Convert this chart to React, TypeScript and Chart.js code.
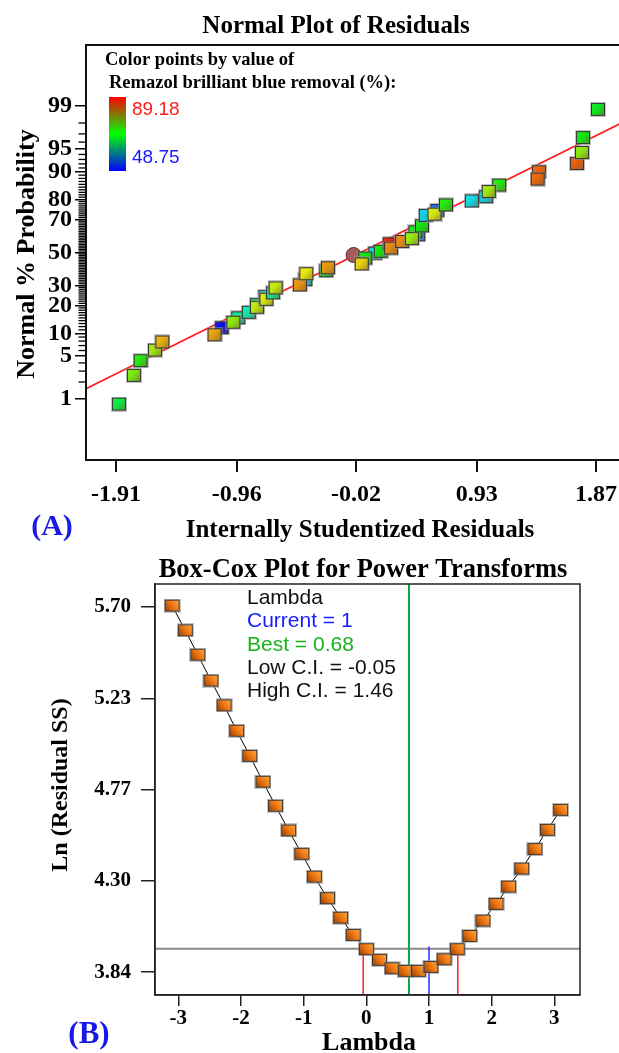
import React, { useEffect, useRef } from "react";
import { Chart, registerables } from "chart.js";

Chart.register(...registerables);

// ---------------- Normal plot of residuals (A) ----------------
// draw order (points drawn later sit on top)
const residuals = [
  -1.886, -1.769, -1.716, -1.603, -1.545, -1.077, -1.134, -0.947, -0.986, -0.864,
  -0.8, -0.8, -0.734, -0.725, -0.673, -0.653, -0.419, -0.462, -0.411, -0.254,
  -0.241, 0.132, 0.053, 0.025, 0.175, 0.244, 0.256, 0.343, 0.47, 0.447,
  0.42, 0.499, 0.529, 0.62, 0.598, 0.688, 1.107, 1.004, 0.892, 1.025,
  1.421, 1.41, 1.72, 1.759, 1.767, 1.885,
];
const normalProb = [
  0.81, 2.57, 4.31, 6.08, 7.8, 11.62, 9.59, 15.01, 13.44, 17.16,
  20.44, 19.24, 24.2, 22.9, 26.08, 28.71, 33.32, 30.33, 36.84, 38.63,
  40.44, 49.6, 46.49, 42.78, 50.76, 55.45, 52.79, 56.91, 61.03, 62.82,
  58.71, 66.35, 72.17, 74.79, 72.84, 77.46, 85.77, 81.19, 79.3, 83.32,
  89.97, 87.78, 92.1, 94.36, 96.58, 98.84,
];
const removal = [
  66.4, 74.0, 70.1, 75.7, 81.6, 48.75, 82.3, 63.4, 74.9, 61.7,
  63.9, 77.0, 59.7, 78.2, 63.4, 77.4, 57.5, 82.9, 79.1, 67.3,
  82.9, 57.8, 69.0, 80.1, 69.0, 88.3, 83.6, 83.4, 55.5, 69.0,
  75.4, 69.0, 57.7, 53.1, 78.2, 70.0, 70.0, 57.8, 58.2, 75.7,
  85.1, 85.0, 85.5, 74.9, 69.0, 68.3,
];
const selectedResidual = [-0.039];
const selectedProb = [48.4];
const removalMin = 48.75;
const removalMax = 89.18;
const fitMean = 0.015;
const fitSd = 1.0;

const probTicks = [1, 5, 10, 20, 30, 50, 70, 80, 90, 95, 99];
const probTickLabels = ["1", "5", "10", "20", "30", "50", "70", "80", "90", "95", "99"];
const probAxisMin = 0.05;
const probAxisMax = 99.95;
const residualTicks = [-1.91, -0.96, -0.02, 0.93, 1.87];
const residualTickLabels = ["-1.91", "-0.96", "-0.02", "0.93", "1.87"];
const residualMin = -2.146;
const residualMax = 2.137;

// ---------------- Box-Cox plot (B) ----------------
const lambdaValues = [
  -3.1, -2.89, -2.69, -2.48, -2.27, -2.07, -1.86, -1.65, -1.45, -1.24,
  -1.03, -0.83, -0.62, -0.41, -0.21, 0.0, 0.21, 0.41, 0.62, 0.83,
  1.03, 1.24, 1.45, 1.65, 1.86, 2.07, 2.27, 2.48, 2.69, 2.89, 3.1,
];
const lnResidualSS = [
  5.707, 5.581, 5.457, 5.325, 5.199, 5.07, 4.942, 4.81, 4.688, 4.562,
  4.443, 4.327, 4.217, 4.118, 4.03, 3.957, 3.903, 3.86, 3.847, 3.847,
  3.867, 3.906, 3.957, 4.025, 4.103, 4.188, 4.276, 4.368, 4.467, 4.565, 4.667,
];
const lambdaCurrent = 1;
const lambdaBest = 0.68;
const lambdaLowCI = -0.05;
const lambdaHighCI = 1.46;
const ciLnSS = 3.959;
const boxYTicks = [3.84, 4.305, 4.77, 5.235, 5.7];
const boxYTickLabels = ["3.84", "4.30", "4.77", "5.23", "5.70"];
const boxXTicks = [-3, -2, -1, 0, 1, 2, 3];
const boxXTickLabels = ["-3", "-2", "-1", "0", "1", "2", "3"];
const boxXMin = -3.373;
const boxXMax = 3.41;
const boxYMin = 3.724;
const boxYMax = 5.817;

// ---------------- helpers ----------------
const SERIF = "'Liberation Serif', 'Times New Roman', serif";
const SANS = "'Liberation Sans', Arial, sans-serif";

function qnorm(p: number): number {
  const a = [-3.969683028665376e1, 2.209460984245205e2, -2.759285104469687e2, 1.38357751867269e2, -3.066479806614716e1, 2.506628277459239];
  const b = [-5.447609879822406e1, 1.615858368580409e2, -1.556989798598866e2, 6.680131188771972e1, -1.328068155288572e1];
  const c = [-7.784894002430293e-3, -3.223964580411365e-1, -2.400758277161838, -2.549732539343734, 4.374664141464968, 2.938163982698783];
  const d = [7.784695709041462e-3, 3.224671290700398e-1, 2.445134137142996, 3.754408661907416];
  const plow = 0.02425;
  if (p < plow) {
    const q = Math.sqrt(-2 * Math.log(p));
    return (((((c[0] * q + c[1]) * q + c[2]) * q + c[3]) * q + c[4]) * q + c[5]) / ((((d[0] * q + d[1]) * q + d[2]) * q + d[3]) * q + 1);
  }
  if (p <= 1 - plow) {
    const q = p - 0.5;
    const r = q * q;
    return ((((((a[0] * r + a[1]) * r + a[2]) * r + a[3]) * r + a[4]) * r + a[5]) * q) / (((((b[0] * r + b[1]) * r + b[2]) * r + b[3]) * r + b[4]) * r + 1);
  }
  const q = Math.sqrt(-2 * Math.log(1 - p));
  return -(((((c[0] * q + c[1]) * q + c[2]) * q + c[3]) * q + c[4]) * q + c[5]) / ((((d[0] * q + d[1]) * q + d[2]) * q + d[3]) * q + 1);
}

function hsl(h: number, s: number, l: number): number[] {
  s /= 100;
  l /= 100;
  const k = (n: number) => (n + h / 30) % 12;
  const a = s * Math.min(l, 1 - l);
  const f = (n: number) => l - a * Math.max(-1, Math.min(k(n) - 3, 9 - k(n), 1));
  return [f(0) * 255, f(8) * 255, f(4) * 255];
}
function rgb(c: number[]): string {
  return `rgb(${Math.round(c[0])},${Math.round(c[1])},${Math.round(c[2])})`;
}
function mix(c1: number[], c2: number[], t: number): number[] {
  return [0, 1, 2].map((i) => c1[i] * (1 - t) + c2[i] * t);
}

function squareMarker(base: number[], W: number, H: number): HTMLCanvasElement {
  const cv = document.createElement("canvas");
  cv.width = W;
  cv.height = H;
  const g = cv.getContext("2d")!;
  g.fillStyle = "rgba(150,150,150,0.55)";
  g.fillRect(0, 0, W, H);
  g.fillStyle = "#333";
  g.fillRect(1, 1, W - 2, H - 2);
  const grad = g.createLinearGradient(2, 2, W - 2, H - 2);
  grad.addColorStop(0, rgb(mix(base, [255, 255, 255], 0.08)));
  grad.addColorStop(0.4, rgb(base));
  grad.addColorStop(1, rgb(mix(base, [110, 95, 70], 0.55)));
  g.fillStyle = grad;
  g.fillRect(2, 2, W - 4, H - 4);
  return cv;
}

function boxMarker(W: number, H: number): HTMLCanvasElement {
  const cv = document.createElement("canvas");
  cv.width = W;
  cv.height = H;
  const g = cv.getContext("2d")!;
  g.fillStyle = "rgba(150,150,150,0.55)";
  g.fillRect(0, 0, W, H);
  g.fillStyle = "#3a3a3a";
  g.fillRect(1, 1, W - 2, H - 2);
  const grad = g.createLinearGradient(W - 2, 2, 2, H - 2);
  grad.addColorStop(0, "#ffa53c");
  grad.addColorStop(0.5, "#ec7512");
  grad.addColorStop(1, "#9a4306");
  g.fillStyle = grad;
  g.fillRect(2, 2, W - 4, H - 4);
  return cv;
}

function colorForRemoval(v: number): number[] {
  const t = Math.max(0, Math.min(1, (v - removalMin) / (removalMax - removalMin)));
  return hsl(240 * (1 - t), 90, 48);
}

function text(ctx: CanvasRenderingContext2D, s: string, x: number, y: number, font: string, color: string, align: CanvasTextAlign = "left", baseline: CanvasTextBaseline = "alphabetic", rot = 0) {
  ctx.save();
  ctx.font = font;
  ctx.fillStyle = color;
  ctx.textAlign = align;
  ctx.textBaseline = baseline;
  ctx.translate(x, y);
  if (rot) ctx.rotate(rot);
  ctx.fillText(s, 0, 0);
  ctx.restore();
}

const minorProbTicks: number[] = [];
for (let p = 2; p <= 98; p++) if (!probTicks.includes(p)) minorProbTicks.push(p);

const normalDecor = {
  id: "normalDecor",
  afterDraw(chart: any) {
    const { ctx, chartArea: a, scales } = chart;
    const ys = scales.y;
    ctx.save();
    ctx.strokeStyle = "#111";
    ctx.lineWidth = 2;
    ctx.strokeRect(a.left, a.top, a.right - a.left, a.bottom - a.top);
    ctx.lineWidth = 1.3;
    ctx.strokeStyle = "#000";
    for (const p of minorProbTicks) {
      const py = ys.getPixelForValue(qnorm(p / 100));
      ctx.beginPath();
      ctx.moveTo(a.left - 7.5, py);
      ctx.lineTo(a.left, py);
      ctx.stroke();
    }
    // colour bar
    const grad = ctx.createLinearGradient(0, 97, 0, 171);
    grad.addColorStop(0, "#ff0000");
    grad.addColorStop(0.5, "#00ff00");
    grad.addColorStop(1, "#0000ff");
    ctx.fillStyle = grad;
    ctx.fillRect(109, 97, 17, 74);
    ctx.restore();

    text(ctx, "Normal Plot of Residuals", 336, 33, `bold 25px ${SERIF}`, "#000", "center");
    text(ctx, "Color points by value of", 105, 65, `bold 18.5px ${SERIF}`, "#000");
    text(ctx, "Remazol brilliant blue removal (%):", 109, 88, `bold 18.5px ${SERIF}`, "#000");
    text(ctx, removalMax.toFixed(2), 132, 115, `19px ${SANS}`, "#ff1a1a");
    text(ctx, removalMin.toFixed(2), 132, 162.5, `19px ${SANS}`, "#1a1aff");
    text(ctx, "Normal % Probability", 27, 254, `bold 26px ${SERIF}`, "#000", "center", "middle", -Math.PI / 2);
    text(ctx, "Internally Studentized Residuals", 360, 537, `bold 25px ${SERIF}`, "#000", "center");
    text(ctx, "(A)", 52, 535, `bold 30px ${SERIF}`, "#1818e8", "center");
  },
};

const boxDecor = {
  id: "boxDecor",
  afterDraw(chart: any) {
    const { ctx, chartArea: a } = chart;
    ctx.save();
    ctx.strokeStyle = "#222";
    ctx.lineWidth = 1.5;
    ctx.strokeRect(a.left, a.top, a.right - a.left, a.bottom - a.top);
    ctx.restore();
    const off = 545;
    text(ctx, "Box-Cox Plot for Power Transforms", 363, 577 - off, `bold 26.5px ${SERIF}`, "#000", "center");
    text(ctx, "Ln (Residual SS)", 61, 785 - off, `bold 24px ${SERIF}`, "#000", "center", "middle", -Math.PI / 2);
    text(ctx, "Lambda", 369, 1050 - off, `bold 26px ${SERIF}`, "#000", "center");
    text(ctx, "(B)", 89, 1043 - off, `bold 31px ${SERIF}`, "#1818e8", "center");
    const f = `21px ${SANS}`;
    text(ctx, "Lambda", 247, 604 - off, f, "#111");
    text(ctx, `Current = ${lambdaCurrent}`, 247, 627.3 - off, f, "#1a1aff");
    text(ctx, `Best = ${lambdaBest.toFixed(2)}`, 247, 650.7 - off, f, "#18b418");
    text(ctx, `Low C.I. = ${lambdaLowCI.toFixed(2)}`, 247, 674 - off, f, "#111");
    text(ctx, `High C.I. = ${lambdaHighCI.toFixed(2)}`, 247, 697.3 - off, f, "#111");
  },
};

function tickFont(size: number) {
  return { family: SERIF, size, weight: "bold" as const };
}

export default function App() {
  const topRef = useRef<HTMLCanvasElement>(null);
  const botRef = useRef<HTMLCanvasElement>(null);

  useEffect(() => {
    const markers = removal.map((v) => squareMarker(colorForRemoval(v), 16, 15));
    const pts = residuals.map((r, i) => ({ x: r, y: qnorm(normalProb[i] / 100) }));
    const sel = selectedResidual.map((r, i) => ({ x: r, y: qnorm(selectedProb[i] / 100) }));
    const fit = [residualMin, residualMax].map((x) => ({ x, y: (x - fitMean) / fitSd }));

    const c1 = new Chart(topRef.current!, {
      type: "scatter",
      data: {
        datasets: [
          { data: fit, showLine: true, borderColor: "#ff1e1e", borderWidth: 1.8, pointRadius: 0, order: 3 } as any,
          { data: sel, pointStyle: "circle", pointRadius: 7.5, backgroundColor: "#a65a5a", borderColor: "#5a2c2c", borderWidth: 1, order: 2 },
          { data: pts, pointStyle: markers as any, pointRadius: 8, order: 1 },
        ],
      },
      options: {
        responsive: false,
        animation: false,
        devicePixelRatio: 1,
        events: [],
        layout: { padding: { left: 0, top: 45, right: 10, bottom: 0 } },
        plugins: { legend: { display: false }, tooltip: { enabled: false }, title: { display: false } },
        scales: {
          x: {
            type: "linear",
            position: "bottom",
            min: residualMin,
            max: residualMax,
            afterBuildTicks: (s: any) => { s.ticks = residualTicks.map((v) => ({ value: v })); },
            afterFit: (s: any) => { s.height = 85; },
            ticks: { autoSkip: false, maxRotation: 0, padding: 8, color: "#000", font: tickFont(24), callback: (_v: any, i: number) => residualTickLabels[i] },
            grid: { drawOnChartArea: false, drawTicks: true, tickLength: 12, color: "#111", lineWidth: 2 },
            border: { display: true, color: "#111", width: 2 },
          },
          y: {
            type: "linear",
            position: "left",
            min: qnorm(probAxisMin / 100),
            max: qnorm(probAxisMax / 100),
            afterBuildTicks: (s: any) => { s.ticks = probTicks.map((p) => ({ value: qnorm(p / 100) })); },
            afterFit: (s: any) => { s.width = 86; },
            ticks: { autoSkip: false, padding: 3, color: "#000", font: tickFont(24), callback: (_v: any, i: number) => probTickLabels[i] },
            grid: { drawOnChartArea: false, drawTicks: true, tickLength: 11, color: "#000", lineWidth: 1.5 },
            border: { display: true, color: "#111", width: 2 },
          },
        },
      },
      plugins: [normalDecor],
    } as any);

    const bm = boxMarker(17, 14);
    const curve = lambdaValues.map((l, i) => ({ x: l, y: lnResidualSS[i] }));
    const c2 = new Chart(botRef.current!, {
      type: "scatter",
      data: {
        datasets: [
          { data: curve, showLine: true, borderColor: "#000", borderWidth: 1, pointStyle: bm, pointRadius: 8, order: 0 },
          { data: [{ x: boxXMin, y: ciLnSS }, { x: boxXMax, y: ciLnSS }], showLine: true, borderColor: "#8a8a8a", borderWidth: 2, pointRadius: 0, order: 5 },
          { data: [{ x: lambdaBest, y: boxYMin }, { x: lambdaBest, y: boxYMax }], showLine: true, borderColor: "#12a048", borderWidth: 2, pointRadius: 0, order: 4 },
          { data: [{ x: lambdaCurrent, y: boxYMin }, { x: lambdaCurrent, y: ciLnSS + 0.012 }], showLine: true, borderColor: "#2a2aff", borderWidth: 1.5, pointRadius: 0, order: 3 },
          { data: [{ x: lambdaLowCI, y: boxYMin }, { x: lambdaLowCI, y: ciLnSS }], showLine: true, borderColor: "#ff2020", borderWidth: 1.5, pointRadius: 0, order: 3 },
          { data: [{ x: lambdaHighCI, y: boxYMin }, { x: lambdaHighCI, y: ciLnSS }], showLine: true, borderColor: "#ff2020", borderWidth: 1.5, pointRadius: 0, order: 3 },
        ],
      },
      options: {
        responsive: false,
        animation: false,
        devicePixelRatio: 1,
        events: [],
        layout: { padding: { left: 0, top: 39, right: 39, bottom: 0 } },
        plugins: { legend: { display: false }, tooltip: { enabled: false }, title: { display: false } },
        scales: {
          x: {
            type: "linear",
            position: "bottom",
            min: boxXMin,
            max: boxXMax,
            afterBuildTicks: (s: any) => { s.ticks = boxXTicks.map((v) => ({ value: v })); },
            afterFit: (s: any) => { s.height = 58; },
            ticks: { autoSkip: false, maxRotation: 0, padding: 0, color: "#000", font: tickFont(21), callback: (_v: any, i: number) => boxXTickLabels[i] },
            grid: { drawOnChartArea: false, drawTicks: true, tickLength: 11, color: "#222", lineWidth: 1.5 },
            border: { display: true, color: "#222", width: 1.5 },
          },
          y: {
            type: "linear",
            position: "left",
            min: boxYMin,
            max: boxYMax,
            afterBuildTicks: (s: any) => { s.ticks = boxYTicks.map((v) => ({ value: v })); },
            afterFit: (s: any) => { s.width = 155; },
            ticks: { autoSkip: false, padding: 10, color: "#000", font: tickFont(21), callback: (_v: any, i: number) => boxYTickLabels[i] },
            grid: { drawOnChartArea: false, drawTicks: true, tickLength: 14, color: "#222", lineWidth: 1.5 },
            border: { display: true, color: "#222", width: 1.5 },
          },
        },
      },
      plugins: [boxDecor],
    } as any);

    return () => {
      c1.destroy();
      c2.destroy();
    };
  }, []);

  return (
    <div style={{ position: "fixed", left: 0, top: 0, width: 619, height: 1053, overflow: "hidden", background: "#fff" }}>
      <canvas ref={topRef} width={640} height={545} style={{ position: "absolute", left: 0, top: 0 }} />
      <canvas ref={botRef} width={619} height={508} style={{ position: "absolute", left: 0, top: 545 }} />
    </div>
  );
}
